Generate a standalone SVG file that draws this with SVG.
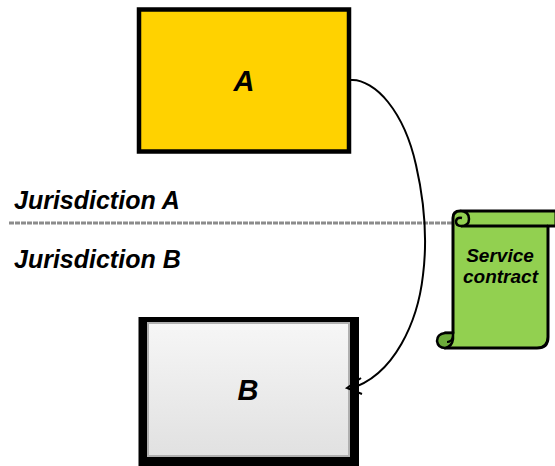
<svg xmlns="http://www.w3.org/2000/svg" width="555" height="466" viewBox="0 0 555 466">
<defs>
<linearGradient id="g" x1="0" y1="0" x2="0" y2="1"><stop offset="0" stop-color="#f6f6f6"/><stop offset="1" stop-color="#e1e1e1"/></linearGradient>
</defs>
<style>
text{font-family:"Liberation Sans",Arial,sans-serif;font-weight:bold;font-style:italic;fill:#000}
.big{font-size:29px;text-anchor:middle}
.j{font-size:25px}
.s{font-size:19px;text-anchor:middle}
.scroll{stroke:#000;stroke-width:3;stroke-linejoin:round;fill:#92d050}
</style>
<rect width="555" height="466" fill="#fff"/>
<g id="divider"><line x1="9" y1="223" x2="453" y2="223" stroke="#8c8c8c" stroke-width="3" stroke-dasharray="5 1"/></g>
<g id="node-a"><rect x="139" y="9.500" width="210" height="142" fill="#ffd200" stroke="#000" stroke-width="4.500"/><text class="big" x="244" y="91">A</text></g>
<g id="node-b"><rect x="138.500" y="317" width="220.500" height="149" fill="#000"/><rect x="148" y="323" width="201" height="133" fill="url(#g)" stroke="#b0b0b0" stroke-width="2"/><text class="big" x="248" y="400">B</text></g>
<g id="label-a"><text class="j" x="14" y="209">Jurisdiction A</text></g>
<g id="label-b"><text class="j" x="14" y="268">Jurisdiction B</text></g>
<g id="connectors" fill="none" stroke="#000" stroke-width="2">
<path d="M351 80C362 79 377 88 388 102C400 117 410 138 416 165C424 200 428 235 423 275C418 320 395 376 349 389"/>
<path d="M361 378L347 388L362 394"/>
</g>
<g id="node-contract">
<path class="scroll" d="M453 218Q453 211 460 211H556V226H548V337Q548 348 537 348H445V333H453Z"/>
<path d="M461 226H548" fill="none" stroke="#000" stroke-width="3"/>
<path d="M460 211Q469 211 469 219Q469 226 461 226Q456 226 456 221Q457 217 462 218" fill="#92d050" stroke="#000" stroke-width="2.500"/>
<path d="M453 333H445Q437 334 437 341Q438 348 445 348Q452 347 453 339V333Z" fill="#6cab3a" stroke="#000" stroke-width="2.500"/>
<path d="M447 342Q452 342 453 336" fill="none" stroke="#000" stroke-width="2"/>
<text class="s" x="500" y="262">Service</text><text class="s" x="500.500" y="283">contract</text>
</g>
</svg>
